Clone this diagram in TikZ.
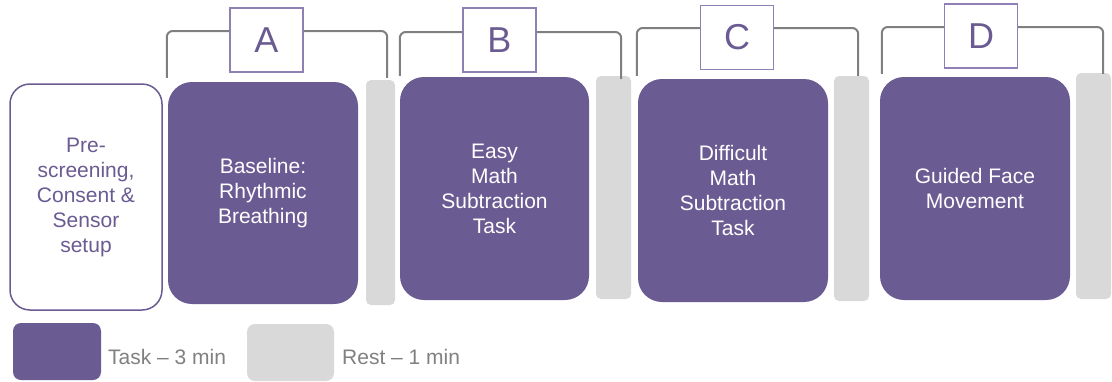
\documentclass[tikz,border=0pt]{standalone}
\usepackage{fontspec}
\setmainfont{Liberation Sans}
\definecolor{purp}{HTML}{6B5B93}
\definecolor{lpurp}{HTML}{8E80B5}
\definecolor{restgray}{HTML}{D9D9D9}
\definecolor{brkgray}{HTML}{7F7F7F}
\definecolor{txtgray}{HTML}{808080}
\begin{document}
\begin{tikzpicture}[x=1pt,y=-1pt]
\tikzstyle{every node}+=[inner sep=0pt]
\tikzstyle{task}=[fill=purp, rounded corners=24pt, text=white, align=center, font=\fontsize{21}{25}\selectfont]
\tikzstyle{prep}=[draw=purp, line width=1.5pt, fill=white, rounded corners=20pt, text=purp, align=center, font=\fontsize{21}{25}\selectfont]
\tikzstyle{rest}=[fill=restgray, rounded corners=5pt]
\tikzstyle{lbl}=[draw=lpurp, line width=1.2pt, fill=white, minimum width=73pt, minimum height=64pt, text=purp, font=\fontsize{36}{40}\selectfont]
\tikzstyle{brk}=[draw=brkgray, line width=2pt, rounded corners=6pt]
\tikzstyle{key}=[text=txtgray, anchor=west, font=\fontsize{21}{25}\selectfont]
\useasboundingbox (0,0) rectangle (1112,381);
% sessions
\node [prep, minimum width=152pt, minimum height=226pt] (pre) at (86,197) {Pre-\\screening,\\Consent \&\\Sensor\\setup};
\node [task, minimum width=190pt, minimum height=222pt] (taskA) at (263,193) {Baseline:\\Rhythmic\\Breathing};
\node [rest, minimum width=29pt, minimum height=225pt] (restA) at (380.5,192.5) {};
\node [task, minimum width=189pt, minimum height=223pt] (taskB) at (494.5,188.5) {Easy\\Math\\Subtraction\\Task};
\node [rest, minimum width=35pt, minimum height=223pt] (restB) at (613.5,187.5) {};
\node [task, minimum width=190pt, minimum height=223pt] (taskC) at (733,190.5) {Difficult\\Math\\Subtraction\\Task};
\node [rest, minimum width=35pt, minimum height=225pt] (restC) at (851.5,188.5) {};
\node [task, minimum width=190pt, minimum height=223pt] (taskD) at (975,188.5) {Guided Face\\Movement};
\node [rest, minimum width=35pt, minimum height=226pt] (restD) at (1093.5,186) {};
% letters
\node [lbl] (lblA) at (266.5,40) {A};
\node [lbl] (lblB) at (499.5,40) {B};
\node [lbl] (lblC) at (737,37.5) {C};
\node [lbl] (lblD) at (981,36) {D};
% brackets
\draw [brk] ([xshift=-1pt,yshift=4pt]taskA.north west) |- ([yshift=9pt]lblA.west);
\draw [brk] ([yshift=9pt]lblA.east) -| ([xshift=-8pt,yshift=2pt]restA.north east);
\draw [brk] ([yshift=1pt]taskB.north west) |- ([yshift=8pt]lblB.west);
\draw [brk] ([yshift=8pt]lblB.east) -| ([xshift=-10pt,yshift=-3pt]restB.north east);
\draw [brk] ([xshift=-1pt,yshift=3pt]taskC.north west) |- ([yshift=9.5pt]lblC.west);
\draw [brk] ([yshift=9.5pt]lblC.east) -| ([xshift=-11pt]restC.north east);
\draw [brk] ([xshift=2pt,yshift=3pt]taskD.north west) |- ([yshift=9pt]lblD.west);
\draw [brk] ([yshift=9pt]lblD.east) -| ([xshift=-8pt,yshift=-1pt]restD.north east);
% legend
\node [fill=purp, rounded corners=8pt, minimum width=88pt, minimum height=57pt] (keytask) at (57,351.5) {};
\node [key] (keytasktxt) at (108,357) {Task -- 3 min};
\node [fill=restgray, rounded corners=8pt, minimum width=87pt, minimum height=57pt] (keyrest) at (290.5,352.5) {};
\node [key] (keyresttxt) at (342,357) {Rest -- 1 min};
\end{tikzpicture}
\end{document}
